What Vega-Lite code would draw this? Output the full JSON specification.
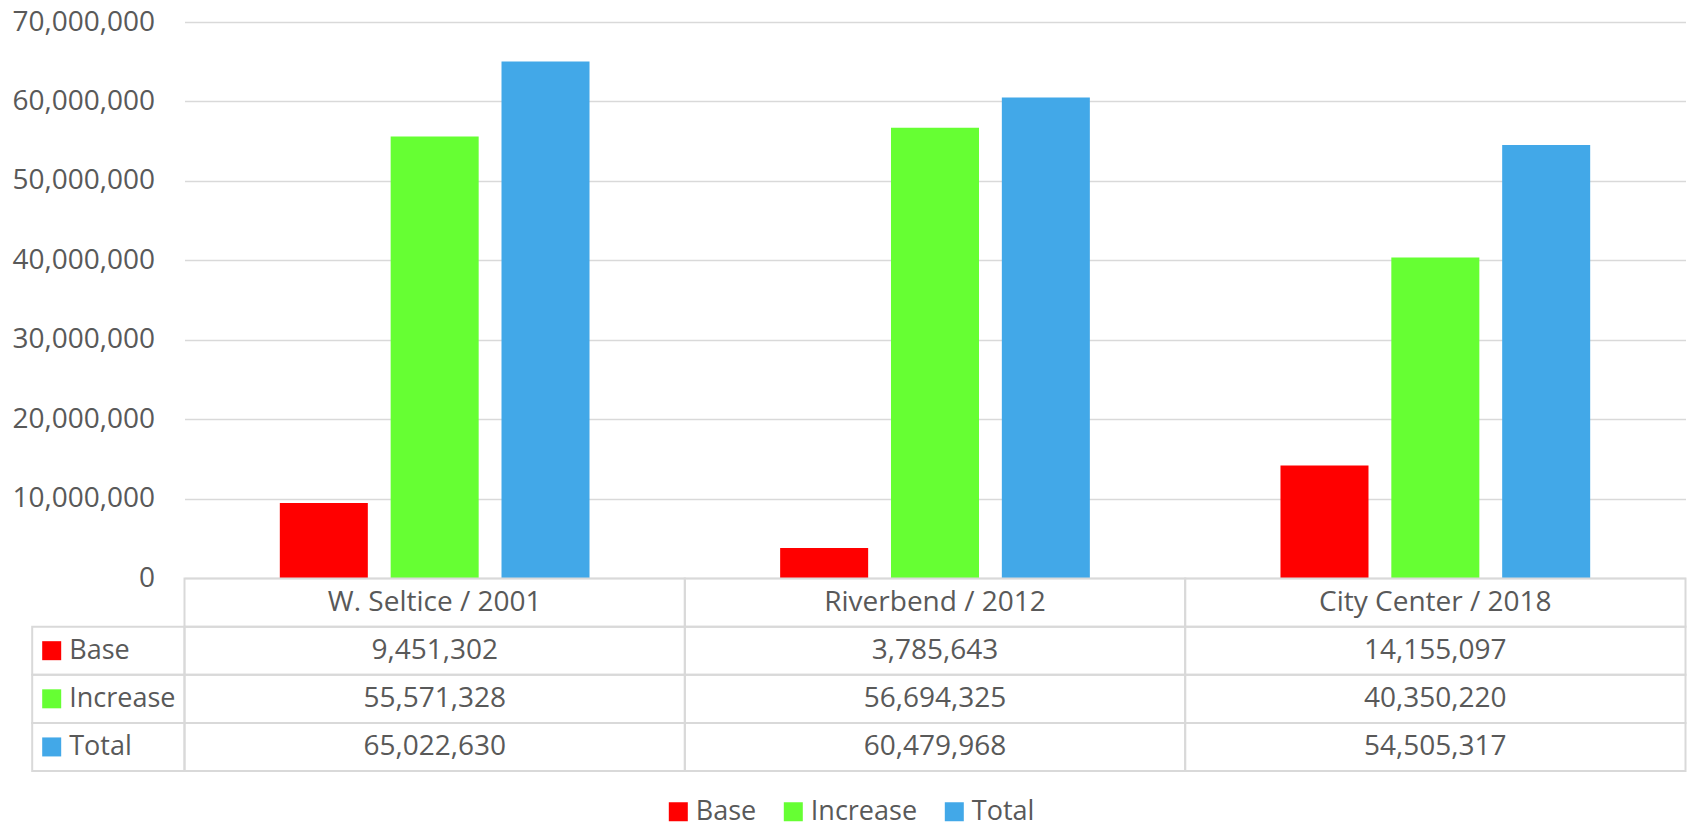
{
  "$schema": "https://vega.github.io/schema/vega-lite/v6.json",
  "width": 1501,
  "height": 556,
  "autosize": {"type": "none"},
  "padding": {"left": 184.5, "top": 22, "right": 4.5, "bottom": 251},
  "background": "white",
  "config": {
    "view": {"stroke": null},
    "font": "Open Sans",
    "text": {"font": "Open Sans"}
  },
  "datasets": {
    "bars": [
      {"cat": "W. Seltice / 2001", "series": "Base", "value": 9451302},
      {"cat": "W. Seltice / 2001", "series": "Increase", "value": 55571328},
      {"cat": "W. Seltice / 2001", "series": "Total", "value": 65022630},
      {"cat": "Riverbend / 2012", "series": "Base", "value": 3785643},
      {"cat": "Riverbend / 2012", "series": "Increase", "value": 56694325},
      {"cat": "Riverbend / 2012", "series": "Total", "value": 60479968},
      {"cat": "City Center / 2018", "series": "Base", "value": 14155097},
      {"cat": "City Center / 2018", "series": "Increase", "value": 40350220},
      {"cat": "City Center / 2018", "series": "Total", "value": 54505317}
    ],
    "headers": [
      {"cat": "W. Seltice / 2001", "row": "header"},
      {"cat": "Riverbend / 2012", "row": "header"},
      {"cat": "City Center / 2018", "row": "header"}
    ]
  },
  "resolve": {"scale": {"x": "independent", "y": "independent"}},
  "layer": [
    {
      "data": {"name": "bars"},
      "mark": {"type": "bar"},
      "encoding": {
        "x": {
          "field": "cat", "type": "nominal", "sort": null,
          "scale": {"domain": ["W. Seltice / 2001", "Riverbend / 2012", "City Center / 2018"], "paddingInner": 0.381, "paddingOuter": 0.1905},
          "axis": null
        },
        "xOffset": {
          "field": "series", "type": "nominal",
          "scale": {"domain": ["Base", "Increase", "Total"], "paddingInner": 0.206, "paddingOuter": 0}
        },
        "y": {
          "field": "value", "type": "quantitative",
          "scale": {"domain": [0, 70000000], "nice": false},
          "axis": {
            "values": [0, 10000000, 20000000, 30000000, 40000000, 50000000, 60000000, 70000000],
            "labelExpr": "format(datum.value, ',')",
            "title": null,
            "domain": false,
            "ticks": false,
            "grid": true,
            "gridColor": "#d9d9d9",
            "gridWidth": 1.5,
            "labelPadding": 30,
            "labelFont": "Open Sans",
            "labelFontSize": 28,
            "labelColor": "#595959"
          }
        },
        "color": {
          "field": "series", "type": "nominal",
          "scale": {"domain": ["Base", "Increase", "Total"], "range": ["#ff0000", "#66ff33", "#42a8e8"]},
          "legend": {
            "orient": "none",
            "legendX": 480.3,
            "legendY": 776,
            "direction": "horizontal",
            "title": null,
            "symbolType": "square",
            "symbolSize": 361,
            "symbolStrokeWidth": 0,
            "symbolOpacity": 1,
            "labelFont": "Open Sans",
            "labelFontSize": 27,
            "labelColor": "#595959",
            "labelOffset": 4,
            "columnPadding": 23,
            "padding": 0
          }
        }
      }
    },
    {
      "layer": [
        {
          "data": {"name": "headers"},
          "mark": {"type": "rect", "fill": "white", "fillOpacity": 0, "stroke": "#d9d9d9", "strokeWidth": 2},
          "encoding": {
            "x": {"field": "cat", "type": "nominal", "sort": null, "axis": null,
                  "scale": {"domain": ["W. Seltice / 2001", "Riverbend / 2012", "City Center / 2018"], "paddingInner": 0, "paddingOuter": 0}},
            "y": {"field": "row", "type": "nominal", "axis": null,
                  "scale": {"domain": ["header", "Base", "Increase", "Total"], "range": [556.5, 749], "paddingInner": 0, "paddingOuter": 0}}
          }
        },
        {
          "data": {"name": "bars"},
          "mark": {"type": "rect", "fill": "white", "fillOpacity": 0, "stroke": "#d9d9d9", "strokeWidth": 2},
          "encoding": {
            "x": {"field": "cat", "type": "nominal", "sort": null, "axis": null},
            "y": {"field": "series", "type": "nominal", "axis": null}
          }
        },
        {
          "data": {"name": "headers"},
          "mark": {"type": "text", "align": "center", "baseline": "middle", "font": "Open Sans", "fontSize": 28, "color": "#595959"},
          "encoding": {
            "x": {"field": "cat", "type": "nominal", "sort": null, "axis": null},
            "y": {"field": "row", "type": "nominal", "axis": null},
            "text": {"field": "cat"}
          }
        },
        {
          "data": {"name": "bars"},
          "mark": {"type": "text", "align": "center", "baseline": "middle", "font": "Open Sans", "fontSize": 28, "color": "#595959"},
          "encoding": {
            "x": {"field": "cat", "type": "nominal", "sort": null, "axis": null},
            "y": {"field": "series", "type": "nominal", "axis": null},
            "text": {"field": "value", "type": "quantitative", "format": ","}
          }
        }
      ]
    },
    {
      "data": {"name": "bars"},
      "transform": [{"filter": "datum.cat === 'W. Seltice / 2001'"}],
      "layer": [
        {
          "mark": {"type": "rect", "fill": "white", "fillOpacity": 0, "stroke": "#d9d9d9", "strokeWidth": 2},
          "encoding": {
            "x": {"datum": "label", "type": "nominal", "axis": null,
                  "scale": {"domain": ["label"], "range": [-152.3, 0], "paddingInner": 0, "paddingOuter": 0}},
            "y": {"field": "series", "type": "nominal", "axis": null,
                  "scale": {"domain": ["header", "Base", "Increase", "Total"], "range": [556.5, 749], "paddingInner": 0, "paddingOuter": 0}}
          }
        },
        {
          "mark": {"type": "square", "size": 361, "opacity": 1, "filled": true},
          "encoding": {
            "x": {"datum": "label", "type": "nominal", "axis": null, "bandPosition": 0.128},
            "y": {"field": "series", "type": "nominal", "axis": null},
            "color": {"field": "series", "type": "nominal"}
          }
        },
        {
          "mark": {"type": "text", "align": "left", "baseline": "middle", "font": "Open Sans", "fontSize": 27, "color": "#595959"},
          "encoding": {
            "x": {"datum": "label", "type": "nominal", "axis": null, "bandPosition": 0.243},
            "y": {"field": "series", "type": "nominal", "axis": null},
            "text": {"field": "series"}
          }
        }
      ]
    }
  ]
}
